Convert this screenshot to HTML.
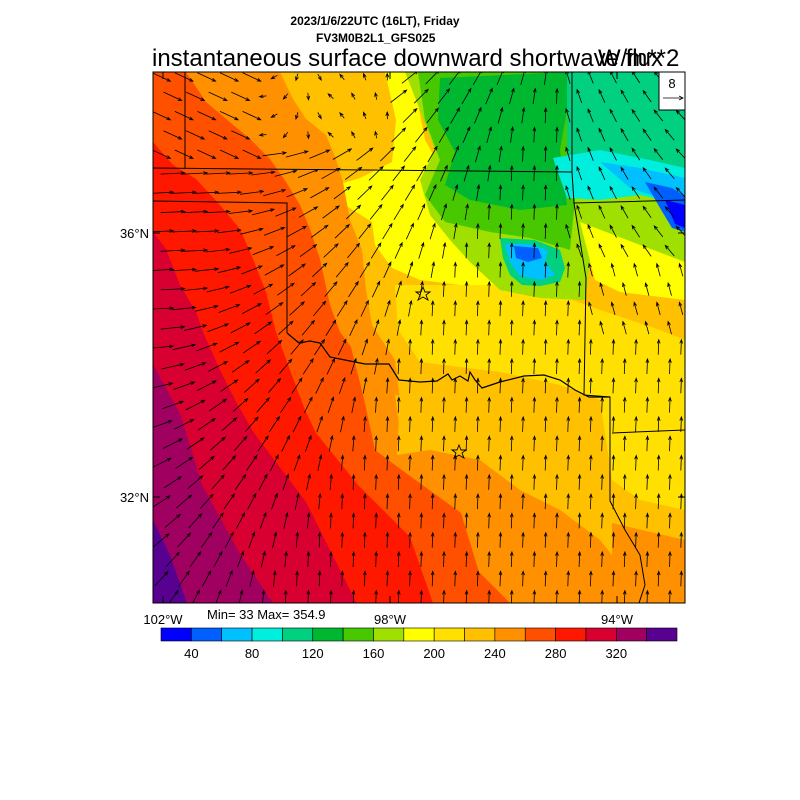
<!DOCTYPE html>
<html><head><meta charset="utf-8"><style>
body{margin:0;background:#fff;}
svg{display:block;font-family:"Liberation Sans",sans-serif;}
</style></head><body>
<svg id="s" width="800" height="800" viewBox="0 0 800 800" xmlns="http://www.w3.org/2000/svg">
<defs><clipPath id="c"><rect x="153" y="72" width="532" height="531"/></clipPath></defs>
<text x="375" y="25" font-size="12" font-weight="bold" text-anchor="middle">2023/1/6/22UTC (16LT), Friday</text>
<text x="316" y="42" font-size="12" font-weight="bold">FV3M0B2L1_GFS025</text>
<text x="152" y="66" font-size="24">instantaneous surface downward shortwave flux</text>
<text x="598" y="66" font-size="24">W/m**2</text>
<g clip-path="url(#c)">
<rect x="153" y="72" width="532" height="531" fill="#ffc000"/>
<polygon fill="#ffff00" points="385,72 412,72 425,140 445,175 470,205 500,235 505,285 460,285 420,280 392,268 375,245 372,222 345,205 320,190 360,178 392,162 396,120"/>
<polygon fill="#ffe000" points="395,285 500,285 560,295 600,310 660,330 685,340 685,510 640,500 612,480 600,400 560,385 500,372 420,362 398,330"/>
<polygon fill="#a0e000" points="405,72 685,72 685,262 620,238 590,260 585,300 540,298 500,290 470,262 450,240 430,215 420,180 435,150 420,110"/>
<polygon fill="#ffff00" points="580,222 685,262 685,300 620,292 595,280"/>
<polygon fill="#48c800" points="418,72 567,72 575,200 570,250 530,238 490,232 445,222 425,195 440,160 425,120"/>
<polygon fill="#00b830" points="440,78 567,72 567,110 560,150 567,205 520,210 470,200 445,185 455,152 438,120"/>
<polygon fill="#00d080" points="567,72 685,72 685,185 640,178 600,175 567,175"/>
<polygon fill="#00eedd" points="553,158 600,150 650,160 685,168 685,205 640,195 600,200 567,198"/>
<polygon fill="#00c0ff" points="600,162 640,168 685,178 685,212 660,198 630,188"/>
<polygon fill="#0060ff" points="645,182 672,188 685,196 685,232 672,228 660,208"/>
<polygon fill="#0000ff" points="665,200 685,205 685,228 675,224"/>
<polygon fill="#00d080" points="500,238 535,240 560,250 565,268 560,282 540,286 522,285 510,275 503,258"/>
<polygon fill="#00c0ff" points="505,244 530,244 548,250 545,262 555,275 540,280 520,276 510,262"/>
<polygon fill="#0060ff" points="514,246 538,248 542,258 528,262 516,258"/>
<polygon fill="#ff9000" points="153,72 280,72 293,99 306,119 326,135 336,159 343,182 350,220 362,250 366,290 372,325 395,360 400,400 397,455 430,450 480,460 520,490 560,510 600,540 616,560 616,603 153,603"/>
<polygon fill="#ff9000" points="612,523 685,540 685,603 612,603"/>
<polygon fill="#ffc000" points="395,395 430,400 460,430 430,440 400,430"/>
<polygon fill="#ff5000" points="153,72 186,72 206,102 250,139 270,159 286,182 300,205 310,229 320,259 330,305 340,332 351,347 364,399 375,450 399,468 461,513 479,572 513,606 153,606"/>
<polygon fill="#ff1800" points="153,142 173,165 196,179 220,205 240,229 253,259 266,292 276,332 290,370 305,410 316,433 358,485 410,537 434,606 153,606"/>
<polygon fill="#d80030" points="153,232 166,249 180,285 196,312 203,332 220,370 235,400 254,433 306,502 358,606 153,606"/>
<polygon fill="#a00060" points="153,364 181,416 202,485 240,554 275,606 153,606"/>
<polygon fill="#580090" points="153,520 170,555 188,606 153,606"/>
<g fill="none" stroke="#000" stroke-width="1">
<polyline points="153,168 572,172"/>
<polyline points="185,72 185,168"/>
<polyline points="572,72 572,172 574,203 685,200"/>
<polyline points="153,201 287,203 287,333"/>
<polyline stroke-width="1.2" points="287,333 299,343 310,341 320,343 330,357 345,360 365,364 389,364 399,380 420,382 437,381 448,374 452,380 460,376 468,381 470,372 475,380 482,388 500,382 524,376 544,375 560,380 575,390 589,397 610,397"/>
<polyline points="574,203 586,278 584,395 610,397 610,501 625,530 640,555 645,585 638,606"/>
<polyline points="612,433 685,430"/>
</g>
<g id="arr" stroke="#000" stroke-width="0.8" fill="none"></g>
<g fill="none" stroke="#000" stroke-width="0.9">
<polygon points="423,287 425,292 430,292 426,295 428,300 423,297 418,300 420,295 416,292 421,292"/>
<polygon points="459,445 461,450 466,450 462,453 464,458 459,455 454,458 456,453 452,450 457,450"/>
</g>
</g>
<rect x="153" y="72" width="532" height="531" fill="none" stroke="#000" stroke-width="1"/>
<g stroke="#000">
<line x1="153" y1="233" x2="160" y2="233"/><line x1="153" y1="497" x2="160" y2="497"/>
<line x1="685" y1="233" x2="678" y2="233"/><line x1="685" y1="497" x2="678" y2="497"/>
<line x1="163" y1="603" x2="163" y2="596"/><line x1="390" y1="603" x2="390" y2="596"/><line x1="617" y1="603" x2="617" y2="596"/>
<line x1="163" y1="72" x2="163" y2="79"/><line x1="390" y1="72" x2="390" y2="79"/><line x1="617" y1="72" x2="617" y2="79"/>
</g>
<rect x="659" y="72" width="26" height="38" fill="#fff" stroke="#000"/>
<text x="672" y="88" font-size="13" text-anchor="middle">8</text>
<line x1="663" y1="98" x2="683" y2="98" stroke="#000" stroke-width="0.8"/>
<polyline points="679,96 683,98 679,100" fill="none" stroke="#000" stroke-width="0.8"/>
<text x="149" y="238" font-size="13" text-anchor="end">36°N</text>
<text x="149" y="502" font-size="13" text-anchor="end">32°N</text>
<text x="163" y="624" font-size="13" text-anchor="middle">102°W</text>
<text x="390" y="624" font-size="13" text-anchor="middle">98°W</text>
<text x="617" y="624" font-size="13" text-anchor="middle">94°W</text>
<text x="207" y="619" font-size="13">Min= 33 Max= 354.9</text>
<g id="cb"></g>
</svg>
<script>
var cols=["#0000ff","#0060ff","#00c0ff","#00eedd","#00d080","#00b830","#48c800","#a0e000","#ffff00","#ffe000","#ffc000","#ff9000","#ff5000","#ff1800","#d80030","#a00060","#580090"];
var ns="http://www.w3.org/2000/svg",cb=document.getElementById("cb");
var x0=161,w=(677-161)/17;
cols.forEach(function(c,i){var r=document.createElementNS(ns,"rect");r.setAttribute("x",x0+i*w);r.setAttribute("y",628);r.setAttribute("width",w);r.setAttribute("height",13);r.setAttribute("fill",c);r.setAttribute("stroke","#000");r.setAttribute("stroke-width","0.6");cb.appendChild(r);});
for(var k=1;k<=8;k++){var t=document.createElementNS(ns,"text");t.setAttribute("x",x0+(2*k-1)*w);t.setAttribute("y",658);t.setAttribute("font-size","13");t.setAttribute("text-anchor","middle");t.textContent=40*k;cb.appendChild(t);}
var g=document.getElementById("arr"),d="";
var row=0;
for(var y=77;y<603;y+=19.3,row++){
 var xs=(row%2==0)?161.3:172.6;
 for(var x=xs;x<685;x+=22.6){
 var t=Math.max(0,Math.min(1,(x-180+(y-300)*0.55)/260));
 var a=-3-85*t, L=24-9*t;
 if(y<160&&x<260){a=25;L=20;}
 else if(y<150&&x<330){a=180-(x-260)*2;L=7;}
 else if(y<150&&x<390){a=-90-(390-x)*0.8;L=7;}
 if(x>560&&y<260){a=-105-(x-560)/130*30;L=14;}
 else if(x>590&&y<340){a=-105;L=13;}
 var r=a*Math.PI/180,dx=Math.cos(r)*L,dy=Math.sin(r)*L;
 var x1=x-dx/2,y1=y-dy/2,x2=x+dx/2,y2=y+dy/2;
 var h=4,b1=r+Math.PI*0.88,b2=r-Math.PI*0.88;
 d+="M"+x1.toFixed(1)+" "+y1.toFixed(1)+"L"+x2.toFixed(1)+" "+y2.toFixed(1)+"M"+(x2+Math.cos(b1)*h).toFixed(1)+" "+(y2+Math.sin(b1)*h).toFixed(1)+"L"+x2.toFixed(1)+" "+y2.toFixed(1)+"L"+(x2+Math.cos(b2)*h).toFixed(1)+" "+(y2+Math.sin(b2)*h).toFixed(1);
}}
var p=document.createElementNS(ns,"path");p.setAttribute("d",d);g.appendChild(p);
</script>
</body></html>
